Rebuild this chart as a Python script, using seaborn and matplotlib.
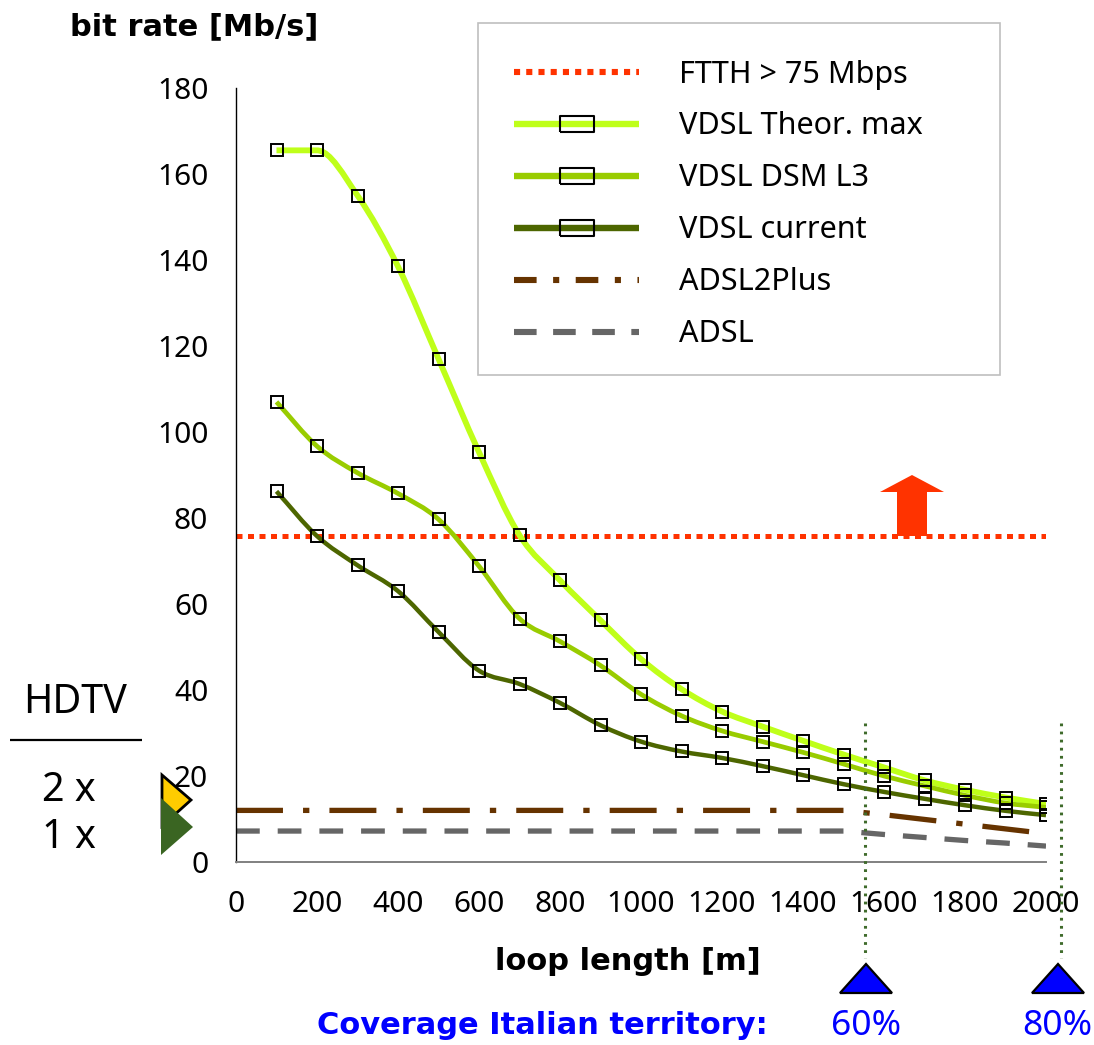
import matplotlib
matplotlib.use("Agg")
import matplotlib.pyplot as plt
import seaborn as sns
from matplotlib.lines import Line2D
from matplotlib.patches import PathPatch, Polygon, Rectangle
from matplotlib.path import Path
from matplotlib.transforms import Affine2D

loop_all = list(range(0, 2001, 100))
loop_vdsl = list(range(100, 2001, 100))

theor_max = [165.5, 165.5, 155, 138.5, 117, 95.3, 76, 65.5, 56.2, 47.2,
             40.2, 35, 31.5, 28.2, 25, 22, 19, 16.8, 15, 13.5]
dsm_l3 = [107, 96.7, 90.5, 85.7, 79.7, 68.8, 56.6, 51.3, 45.7, 39,
          34, 30.5, 28, 25.5, 22.8, 20, 17.7, 15.5, 13.7, 12.7]
current = [86.2, 75.8, 69, 63, 53.5, 44.5, 41.4, 37, 31.8, 28,
           25.7, 24.2, 22.3, 20.2, 18.1, 16.3, 14.7, 13.2, 11.9, 10.9]
adsl2plus = [12] * 16 + [11, 9.9, 8.8, 7.7, 6.6]
adsl = [7.2] * 16 + [6.4, 5.7, 5, 4.4, 3.7]
ftth = [75.7] * 21

x_ticks = list(range(0, 2001, 200))
y_ticks = list(range(0, 181, 20))

W, H = 1094, 1045


def smooth_line(ax, x, y, color, lw):
    # the spreadsheet's smoothed line: a bezier through the values
    n = len(x)
    slopes = []
    for i in range(n):
        a, d = max(i - 1, 0), min(i + 1, n - 1)
        flat = (a != i and y[a] == y[i]) or (d != i and y[d] == y[i])
        slopes.append(0 if flat else (y[d] - y[a]) / (x[d] - x[a]))
    verts = [(x[0], y[0])]
    codes = [Path.MOVETO]
    for i in range(n - 1):
        step = (x[i + 1] - x[i]) / 3
        verts.append((x[i] + step, y[i] + slopes[i] * step))
        verts.append((x[i + 1] - step, y[i + 1] - slopes[i + 1] * step))
        verts.append((x[i + 1], y[i + 1]))
        codes += [Path.CURVE4] * 3
    ax.add_patch(PathPatch(Path(verts, codes), fc="none", ec=color, lw=lw,
                           capstyle="butt", joinstyle="round", zorder=2))


sns.set_theme(style="white")
plt.rcParams["font.family"] = ["Noto Sans", "DejaVu Sans"]
plt.rcParams["lines.solid_capstyle"] = "butt"

fig = plt.figure(figsize=(W / 100, H / 100), dpi=100)
ax = fig.add_axes([236 / W, 1 - 862 / H, 810 / W, 774 / H])
# decorations around the plot are placed in image pixels
px = Affine2D().scale(1 / W, -1 / H).translate(0, 1) + fig.transFigure

adsl_style = dict(color="#666666", lw=3.8, linestyle=(0, (4.5, 3.4)))
ftth_style = dict(color="#FF3300", lw=3.6, linestyle=(0, (1.2, 1.1)))
sns.lineplot(x=loop_all, y=adsl, ax=ax, **adsl_style)
sns.lineplot(x=loop_all, y=adsl2plus, ax=ax, color="#663300", lw=3.8,
             linestyle=(0, (8.9, 3.8, 1.2, 3.8)))
sns.lineplot(x=loop_all, y=ftth, ax=ax, **ftth_style)

marker_style = dict(marker="s", ms=8.2, mfc="none", mec="black", mew=1.4,
                    linestyle="none", zorder=3)
series = [(theor_max, "#BFFF1A", 4.2), (dsm_l3, "#99CC00", 3.4), (current, "#4D6600", 3.2)]
for values, color, lw in series:
    smooth_line(ax, loop_vdsl, values, color, lw)
    sns.lineplot(x=loop_vdsl, y=values, ax=ax, **marker_style)

ax.set_xlim(0, 2000)
ax.set_ylim(0, 180)
ax.set_xticks(x_ticks)
ax.set_yticks(y_ticks)
ax.tick_params(axis="x", length=6, width=1, color="#444444", labelsize=21.5, pad=14, labelcolor="black")
ax.tick_params(axis="y", length=6, width=1.4, color="#808080", labelsize=21.5, pad=14, labelcolor="black")
ax.spines["top"].set_visible(False)
ax.spines["right"].set_visible(False)
ax.spines["left"].set_color("black")
ax.spines["left"].set_linewidth(1)
ax.spines["bottom"].set_color("#808080")
ax.spines["bottom"].set_linewidth(1.4)

box = [(-1, -0.5), (1, -0.5), (1, 0.5), (-1, 0.5), (-1, -0.5)]
box_style = dict(marker=box, ms=24, mfc="none", mec="black", mew=1.5)
handles = [
    Line2D([], [], color="#FF3300", lw=4.4, linestyle=(0, (1, 1))),
    Line2D([], [], color="#BFFF1A", lw=4.6, **box_style),
    Line2D([], [], color="#99CC00", lw=4.6, **box_style),
    Line2D([], [], color="#4D6600", lw=4.6, **box_style),
    Line2D([], [], color="#663300", lw=4.4, linestyle=(0, (3.7, 2.7, 1, 2.7))),
    Line2D([], [], color="#666666", lw=4.4, linestyle=(0, (3.7, 2.7))),
]
labels = ["FTTH > 75 Mbps", "VDSL Theor. max", "VDSL DSM L3",
          "VDSL current", "ADSL2Plus", "ADSL"]
leg = ax.legend(handles, labels, loc="upper left",
                bbox_to_anchor=(514 / W, 1 - 59.5 / H), bbox_transform=fig.transFigure,
                fontsize=22, frameon=False, borderaxespad=0, borderpad=0,
                labelspacing=0.72, handlelength=4.1, handletextpad=1.3)
for t in leg.get_texts():
    t.set_color("black")
fig.add_artist(Rectangle((478, 23), 522, 352, fc="none", ec="#BFBFBF", lw=1.2, transform=px))

text_kw = dict(transform=px, ha="center", va="center", color="black")
bold_kw = dict(fontweight="bold", family=["DejaVu Sans"], fontsize=22)
fig.text(194, 27, "bit rate [Mb/s]", **bold_kw, **text_kw)
fig.text(628, 961, "loop length [m]", **bold_kw, **text_kw)
blue_kw = dict(transform=px, ha="center", va="center", color="#0000FF")
fig.text(542, 1025, "Coverage Italian territory:", **bold_kw, **blue_kw)
fig.text(866, 1026, "60%", fontsize=25.5, **blue_kw)
fig.text(1057, 1026, "80%", fontsize=25.5, **blue_kw)
fig.text(75, 703, "HDTV", fontsize=28.5, **text_kw)
fig.text(69, 791, "2 x", fontsize=28.5, **text_kw)
fig.text(69, 838, "1 x", fontsize=28.5, **text_kw)

fig.add_artist(Line2D([10, 142], [740, 740], color="black", lw=1.6, transform=px))
for xp in (865, 1061):
    fig.add_artist(Line2D([xp, xp], [723, 958], color="#3F6B2B", lw=2.2,
                          linestyle=(0, (0.9, 1.75)), transform=px))

fig.add_artist(Polygon([(162, 775), (191, 800), (162, 826)], closed=True, fc="#FFCC00",
                       ec="black", lw=2, transform=px))
fig.add_artist(Polygon([(161, 798), (193, 827), (161, 855)], closed=True, fc="#3A6522",
                       ec="none", transform=px))
for xc in (866, 1058):
    fig.add_artist(Polygon([(xc - 26, 993), (xc, 964), (xc + 26, 993)], closed=True,
                           fc="#0000FF", ec="black", lw=1.6, transform=px))
fig.add_artist(Polygon([(880, 492), (912, 475), (944, 492), (927, 492), (927, 536),
                        (897, 536), (897, 492)], closed=True, fc="#FF3300", ec="none",
                       transform=px))

fig.savefig("out.png", dpi=100)
